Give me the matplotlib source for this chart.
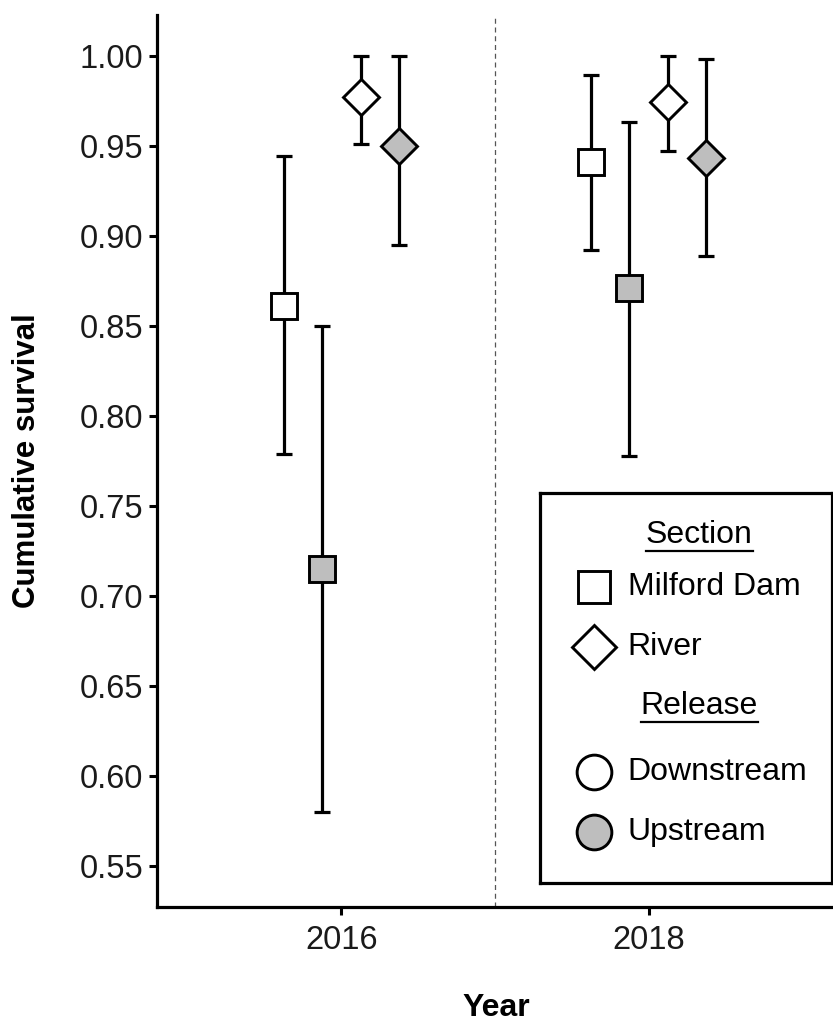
import matplotlib
matplotlib.use('Agg')
import matplotlib.pyplot as plt
from matplotlib.lines import Line2D

plt.rcParams['font.family'] = ['Liberation Sans', 'DejaVu Sans']

# data
years = [2016, 2018]
sections = ['Milford Dam', 'Milford Dam', 'River', 'River']
releases = ['Downstream', 'Upstream', 'Downstream', 'Upstream']

survival = {
    2016: [0.861, 0.715, 0.977, 0.950],
    2018: [0.941, 0.871, 0.974, 0.943],
}
lower = {
    2016: [0.779, 0.580, 0.951, 0.895],
    2018: [0.892, 0.778, 0.947, 0.889],
}
upper = {
    2016: [0.944, 0.850, 1.000, 1.000],
    2018: [0.989, 0.963, 1.000, 0.998],
}

y_ticks = [0.55, 0.60, 0.65, 0.70, 0.75, 0.80, 0.85, 0.90, 0.95, 1.00]

section_marker = {'Milford Dam': 's', 'River': 'D'}
release_fill = {'Downstream': 'white', 'Upstream': '#bebebe'}

fig = plt.figure(figsize=(8.33, 10.24), dpi=100)
ax = fig.add_axes([157 / 833, 1 - 907 / 1024, 1 - 157 / 833, (907 - 15) / 1024])

dodge = 0.25
for yr in years:
    for i in range(len(sections)):
        x = yr + (i - 1.5) * dodge
        y = survival[yr][i]
        ax.errorbar([x], [y], yerr=[[y - lower[yr][i]], [upper[yr][i] - y]],
                    fmt='none', ecolor='black', elinewidth=2.3,
                    capsize=5.8, capthick=2.3, zorder=2)
        ax.plot([x], [y], linestyle='none', marker=section_marker[sections[i]],
                markersize=18.5, markerfacecolor=release_fill[releases[i]],
                markeredgecolor='black', markeredgewidth=2.1, zorder=3)

ax.axvline(2017, color='#555555', linestyle=(0, (4, 3)), linewidth=0.9, zorder=1)

ax.set_xlim(2014.8, 2019.2)
ax.set_ylim(0.5275, 1.0225)
ax.set_xticks(years)
ax.set_xticklabels([str(y) for y in years])
ax.set_yticks(y_ticks)
ax.set_yticklabels([f'{v:.2f}' for v in y_ticks])

for side in ['top', 'right']:
    ax.spines[side].set_visible(False)
for side in ['left', 'bottom']:
    ax.spines[side].set_linewidth(2.3)
ax.tick_params(axis='both', width=2.2, length=6, labelsize=23.5,
               labelcolor='#1a1a1a')
ax.tick_params(axis='x', pad=7)
ax.tick_params(axis='y', pad=4)

# axis titles placed as in the reference
fig.text(496 / 833, 1 - 1016 / 1024, 'Year', fontsize=23, fontweight='bold',
         ha='center', va='baseline')
fig.text(27 / 833, 1 - 461 / 1024, 'Cumulative survival', fontsize=22.5,
         fontweight='bold', rotation=90, ha='center', va='center')

# legend box drawn by hand: two titled blocks
lax = fig.add_axes([540 / 833, 1 - 883 / 1024, 292 / 833, 390 / 1024])
lax.set_xlim(0, 1)
lax.set_ylim(0, 1)
lax.set_xticks([])
lax.set_yticks([])
for sp in lax.spines.values():
    sp.set_linewidth(2.3)

titles = [('Section', 0.893), ('Release', 0.455)]
rows = [
    ('s', 'white', 'Milford Dam', 0.759),
    ('D', 'white', 'River', 0.605),
    ('o', 'white', 'Downstream', 0.285),
    ('o', '#bebebe', 'Upstream', 0.132),
]
legend_sizes = {'s': 23, 'D': 22.5, 'o': 25}

title_texts = []
for label, ty in titles:
    t = lax.text(0.545, ty, label, fontsize=23, ha='center', va='center')
    title_texts.append(t)

for mk, fc, label, ry in rows:
    lax.plot([0.185], [ry], linestyle='none', marker=mk, markersize=legend_sizes[mk],
             markerfacecolor=fc, markeredgecolor='black', markeredgewidth=2.1)
    lax.text(0.30, ry, label, fontsize=23, ha='left', va='center')

# underline the block titles
fig.canvas.draw()
inv = lax.transData.inverted()
for t in title_texts:
    bb = t.get_window_extent()
    (x0, y0), (x1, _) = inv.transform([(bb.x0, bb.y0 - 1), (bb.x1, bb.y0)])
    lax.add_line(Line2D([x0, x1], [y0, y0], color='black', linewidth=1.6))

fig.savefig('out.png', dpi=100)
